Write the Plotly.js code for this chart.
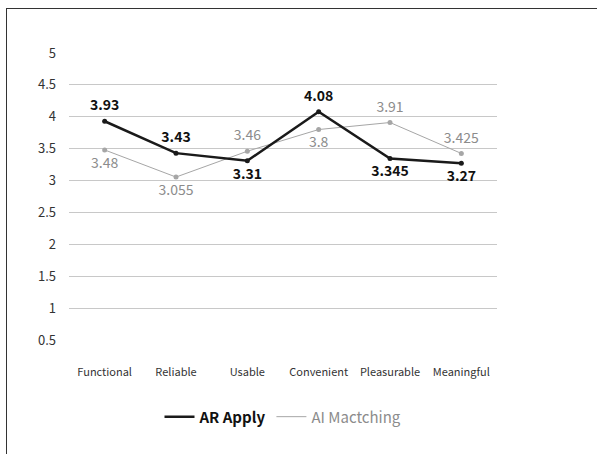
<!DOCTYPE html>
<html>
<head>
<meta charset="utf-8">
<script src="https://cdn.plot.ly/plotly-3.0.1.min.js"></script>
<style>
html,body{margin:0;padding:0;background:#fff;}
#frame{position:absolute;left:6px;top:8px;width:591px;height:446px;border-top:1px solid #333;border-left:1px solid #333;box-sizing:border-box;}
#chart{position:absolute;left:0;top:0;width:597px;height:454px;}
</style>
</head>
<body>
<div id="frame"></div>
<div id="chart"></div>
<script>
const categories = ["Functional", "Reliable", "Usable", "Convenient", "Pleasurable", "Meaningful"];
const arApply = [3.93, 3.43, 3.31, 4.08, 3.345, 3.27];
const aiMatching = [3.48, 3.055, 3.46, 3.8, 3.91, 3.425];
const yTicks = [0.5, 1, 1.5, 2, 2.5, 3, 3.5, 4, 4.5, 5];
const arLabelPos = ["top center", "top center", "bottom center", "top center", "bottom center", "bottom center"];
const aiLabelPos = ["bottom center", "bottom center", "top center", "bottom center", "top center", "top center"];

const font = '"Noto Sans CJK KR", "Noto Sans", sans-serif';

const traces = [
  {
    x: categories, y: aiMatching, name: '<span style="color:#8c8c8c">AI Mactching</span>',
    type: "scatter", mode: "lines", legendrank: 2,
    line: {color: "#a6a6a6", width: 1}
  },
  {
    x: categories, y: aiMatching, showlegend: false,
    type: "scatter", mode: "markers",
    marker: {color: "#a6a6a6", size: 5}
  },
  {
    x: categories, y: arApply, name: "<b>AR Apply</b>",
    type: "scatter", mode: "lines", legendrank: 1,
    line: {color: "#1a1a1a", width: 2.5}
  },
  {
    x: categories, y: arApply, showlegend: false,
    type: "scatter", mode: "markers",
    marker: {color: "#1a1a1a", size: 5}
  },
  {
    x: categories, y: aiMatching, showlegend: false,
    type: "scatter", mode: "markers+text",
    text: aiMatching.map(String), textposition: aiLabelPos,
    textfont: {family: font, size: 14, color: "#8c8c8c"},
    marker: {size: 10, color: "rgba(0,0,0,0)"}, cliponaxis: false
  },
  {
    x: categories, y: arApply, showlegend: false,
    type: "scatter", mode: "markers+text",
    text: arApply.map(String), textposition: arLabelPos,
    textfont: {family: font, size: 14, color: "#111", weight: "bold"},
    marker: {size: 10, color: "rgba(0,0,0,0)"}, cliponaxis: false
  }
];

const layout = {
  width: 597, height: 454,
  margin: {l: 69, r: 100, t: 53, b: 114},
  paper_bgcolor: "rgba(0,0,0,0)", plot_bgcolor: "rgba(0,0,0,0)",
  font: {family: font, size: 12, color: "#333"},
  showlegend: true,
  legend: {orientation: "h", x: 0.5, xanchor: "center", y: -0.268, yanchor: "middle",
           font: {family: font, size: 15, color: "#111"}, itemwidth: 30},
  xaxis: {type: "category", range: [-0.5, 5.5], showgrid: false, showline: false, zeroline: false,
          ticks: "", ticklabelstandoff: 24, tickfont: {family: font, size: 11, color: "#333"}},
  yaxis: {range: [0.5, 5], tickvals: yTicks, ticktext: yTicks.map(String),
          showgrid: true, gridcolor: "#c8c8c8", gridwidth: 1, zeroline: false, showline: false,
          ticks: "", ticklabelstandoff: 12, tickfont: {family: font, size: 13, color: "#333"}}
};

Plotly.newPlot("chart", traces, layout, {displayModeBar: false, staticPlot: true});
</script>
</body>
</html>
